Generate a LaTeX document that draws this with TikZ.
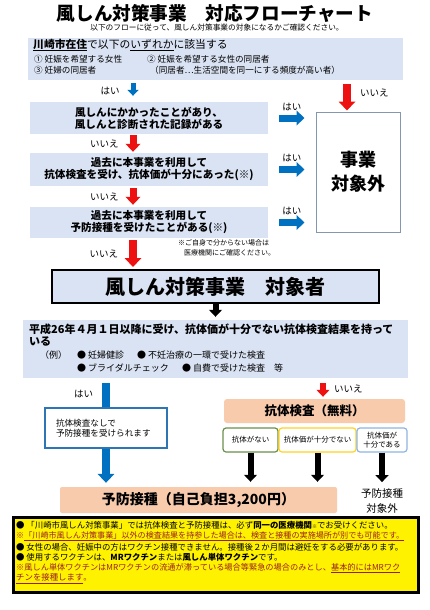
\documentclass[tikz,border=0pt]{standalone}
\usepackage{fontspec}
\setmainfont{Noto Sans CJK JP}
\usepackage{xcolor}
\usepackage{tikz}
\usetikzlibrary{arrows.meta}

\definecolor{paleblue}{HTML}{DAE3F3}
\definecolor{yesblue}{HTML}{0070C0}
\definecolor{nored}{HTML}{EE1111}
\definecolor{peach}{HTML}{F8CBAD}
\definecolor{slate}{HTML}{8497B0}
\definecolor{boxblue}{HTML}{2E75B6}
\definecolor{okgreen}{HTML}{6A8F4A}
\definecolor{midyellow}{HTML}{FFD320}
\definecolor{lightblue}{HTML}{8FB4E3}
\definecolor{notered}{HTML}{9A2020}

\begin{document}
\begin{tikzpicture}[x=1pt, y=-1pt,
	qbox/.style = {fill=paleblue, minimum width=238, align=center, inner sep=0pt, font=\fontsize{10.6}{12}\selectfont\bfseries},
	blockarr/.style = {line width=7pt, -{Triangle[width=2pt 1.8, length=1pt 1]}},
	ans/.style = {font=\fontsize{9.5}{10}\selectfont, inner sep=1pt},
	txt/.style = {anchor=west, inner sep=0pt},
	result/.style = {rounded corners=3pt, line width=1.2pt, fill=white, minimum height=24, inner sep=1pt, align=center, font=\fontsize{7.5}{9.5}\selectfont}]
	\useasboundingbox (0,0) rectangle (430,610);
	\coordinate (leftcol) at (133,0);
	\coordinate (rightcol) at (347,0);
	\coordinate (yescol) at (106,0);
	\coordinate (nocol) at (323,0);

	% heading
	\node (title) at (215,13) {\fontsize{18.6}{20}\selectfont\bfseries 風しん対策事業　対応フローチャート};
	\node (sub) at (217,28) {\fontsize{7.7}{9}\selectfont 以下のフローに従って、風しん対策事業の対象になるかご確認ください。};

	% who may use it
	\node [fill=paleblue, minimum width=375, minimum height=42] (crit) at (215.5,59) {};
	\node [txt] (c1) at (33,45) {\fontsize{10.8}{12}\selectfont\underline{\textbf{川崎市在住}}で以下の\underline{いずれか}に該当する};
	\node [txt] (c2) at (34,59) {\fontsize{8.6}{10}\selectfont ① 妊娠を希望する女性};
	\node [txt] (c3) at (147,59) {\fontsize{8.6}{10}\selectfont ② 妊娠を希望する女性の同居者};
	\node [txt] (c4) at (34,70) {\fontsize{8.6}{10}\selectfont ③ 妊婦の同居者};
	\node [txt] (c5) at (150,70) {\fontsize{8.6}{10}\selectfont （同居者…生活空間を同一にする頻度が高い者）};

	% questions
	\node [qbox, minimum height=32] (q1) at (149,118) {風しんにかかったことがあり、\\風しんと診断された記録がある};
	\node [qbox, minimum height=33] (q2) at (149,169.5) {過去に本事業を利用して\\抗体検査を受け、抗体価が十分にあった(※)};
	\node [qbox, minimum height=31] (q3) at (149,222.5) {過去に本事業を利用して\\予防接種を受けたことがある(※)};
	\node [draw=slate, line width=1pt, fill=white, minimum width=84, minimum height=120, align=center, font=\fontsize{18}{24}\selectfont\bfseries] (out) at (358,172) {事業\\対象外};
	\node [txt, align=left, font=\fontsize{7}{9.5}\selectfont] (hint) at (178,248) {※ご自身で分からない場合は\\\hspace*{6pt}医療機関にご確認ください。};

	\draw [blockarr, draw=yesblue, line width=5pt, shorten <=3pt, shorten >=6pt] (crit.south -| leftcol) -- (q1.north -| leftcol) node [ans, midway, left=10pt] {はい};
	\draw [blockarr, draw=nored, line width=8pt, shorten <=4pt, shorten >=1pt] (crit.south -| rightcol) -- (out.north -| rightcol) node [ans, pos=.4, right=8pt] {いいえ};
	\draw [blockarr, draw=nored, shorten <=1pt, shorten >=1pt] (q1.south -| leftcol) -- (q2.north -| leftcol) node [ans, midway, left=10pt] {いいえ};
	\draw [blockarr, draw=nored, shorten <=2pt, shorten >=2pt] (q2.south -| leftcol) -- (q3.north -| leftcol) node [ans, midway, left=10pt] {いいえ};
	\draw [blockarr, draw=yesblue, shorten <=11pt, shorten >=11pt] (q1.east) -- (q1.east -| out.west) node [ans, midway, above=3pt] {はい};
	\draw [blockarr, draw=yesblue, shorten <=11pt, shorten >=11pt] (q2.east) -- (q2.east -| out.west) node [ans, midway, above=3pt] {はい};
	\draw [blockarr, draw=yesblue, shorten <=11pt, shorten >=11pt] (q3.east) -- (q3.east -| out.west) node [ans, midway, above=3pt] {はい};

	% target group
	\node [draw, line width=2pt, fill=paleblue, minimum width=327, minimum height=33, font=\fontsize{20}{22}\selectfont\bfseries] (who) at (215.5,286.5) {風しん対策事業　対象者};
	\draw [blockarr, draw=nored, line width=8pt, shorten <=2pt, shorten >=2pt] (q3.south -| leftcol) -- (who.north -| leftcol) node [ans, midway, left=10pt] {いいえ};

	\node [fill=paleblue, minimum width=385, minimum height=58] (past) at (215.5,349) {};
	\node [txt] (p1) at (29,329) {\fontsize{11}{12}\selectfont\bfseries 平成26年４月１日以降に受け、抗体価が十分でない抗体検査結果を持って};
	\node [txt] (p2) at (29,342) {\fontsize{11}{12}\selectfont\bfseries いる};
	\node [txt] (p3) at (40,355) {\fontsize{9}{10}\selectfont （例）};
	\node [txt] (p4) at (77,355) {\fontsize{9}{10}\selectfont ● 妊婦健診};
	\node [txt] (p5) at (137,355) {\fontsize{9}{10}\selectfont ● 不妊治療の一環で受けた検査};
	\node [txt] (p6) at (77,368) {\fontsize{9}{10}\selectfont ● ブライダルチェック};
	\node [txt] (p7) at (182,368) {\fontsize{9}{10}\selectfont ● 自費で受けた検査　等};
	\draw [blockarr, draw=black, line width=6pt, shorten >=3pt] (who.south) -- (past.north);

	% test or vaccination
	\node [fill=peach, rounded corners=2pt, minimum width=277, minimum height=26, font=\fontsize{14}{16}\selectfont\bfseries] (vac) at (198.5,500) {予防接種（自己負担3,200円）};
	\draw [blockarr, draw=yesblue, line width=8pt, shorten <=5pt, shorten >=4pt] (past.south -| yescol) -- (vac.north -| yescol) node [ans, pos=.15, left=8pt] {はい};
	\node [draw=boxblue, line width=1.2pt, fill=white, minimum width=122, minimum height=40, text width=100, align=left, font=\fontsize{8.6}{10}\selectfont] (nocheck) at (106,428) {抗体検査なしで\\予防接種を受けられます};

	\node [fill=peach, rounded corners=3pt, minimum width=181, minimum height=24, font=\fontsize{12.5}{14}\selectfont\bfseries] (test) at (314.5,411) {抗体検査（無料）};
	\draw [blockarr, draw=nored, line width=6pt, shorten <=5pt, shorten >=2pt] (past.south -| nocol) -- (test.north -| nocol) node [ans, midway, right=7pt] {いいえ};

	\node [result, draw=okgreen, minimum width=55] (r1) at (250.5,440) {抗体がない};
	\node [result, draw=midyellow, minimum width=77] (r2) at (317.5,440) {抗体価が十分でない};
	\node [result, draw=lightblue, minimum width=50] (r3) at (382,440) {抗体価が\\十分である};
	\node [align=center, font=\fontsize{10.5}{15}\selectfont] (skip) at (382,501) {予防接種\\対象外};
	\draw [blockarr, draw=black, line width=6pt, shorten >=5pt] (r1.south) -- (r1.south |- vac.north);
	\draw [blockarr, draw=black, line width=6pt, shorten >=5pt] (r2.south) -- (r2.south |- vac.north);
	\draw [blockarr, draw=black, line width=6pt, shorten >=3pt] (r3.south) -- (skip.north);

	% notes
	\node [draw, line width=3pt, fill=yellow, minimum width=405, minimum height=75] (rules) at (215.5,554.5) {};
	\node [txt] (n1) at (16,525) {\fontsize{8.4}{10}\selectfont ● 「川崎市風しん対策事業」では抗体検査と予防接種は、必ず\textbf{同一の医療機関}{\fontsize{5}{6}\selectfont ※}でお受けください。};
	\node [txt] (n2) at (16,536) {\fontsize{8.1}{10}\selectfont\color{notered}※\underline{「川崎市風しん対策事業」以外の検査結果を持参した場合は、検査と接種の実施場所が別でも可能です。}};
	\node [txt] (n3) at (16,547) {\fontsize{8.4}{10}\selectfont ● 女性の場合、妊娠中の方はワクチン接種できません。接種後２か月間は避妊をする必要があります。};
	\node [txt] (n4) at (16,557.5) {\fontsize{8.4}{10}\selectfont ● 使用するワクチンは、\textbf{MRワクチン}または\textbf{風しん単体ワクチン}です。};
	\node [txt] (n5) at (16,568) {\fontsize{8.2}{10}\selectfont\color{notered}※風しん単体ワクチンはMRワクチンの流通が滞っている場合等緊急の場合のみとし、\underline{基本的にはMRワク}};
	\node [txt] (n6) at (16,578.5) {\fontsize{8.4}{10}\selectfont\color{notered}\underline{チンを接種します}。};
	%\node [txt] at (16,589) {};
\end{tikzpicture}
\end{document}
